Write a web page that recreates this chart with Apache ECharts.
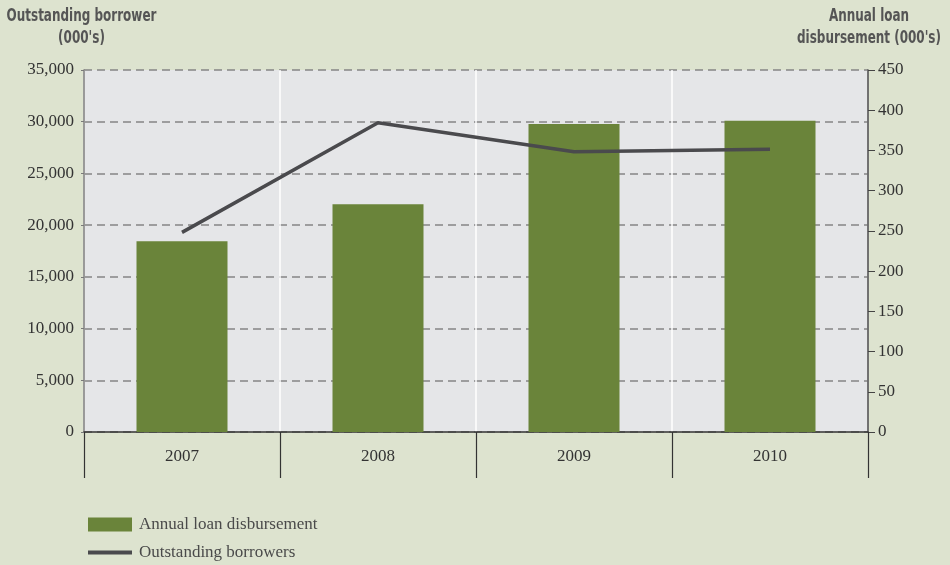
<!DOCTYPE html>
<html>
<head>
<meta charset="utf-8">
<script src="https://cdn.jsdelivr.net/npm/echarts@6/dist/echarts.min.js"></script>
<style>
  html, body { margin: 0; padding: 0; background: #dde3cf; }
  #chart { width: 950px; height: 565px; }
</style>
</head>
<body>
<div id="chart"></div>
<script>
// Years on the category axis
const years = ['2007', '2008', '2009', '2010'];
// Annual loan disbursement, thousands (right axis)
const disbursement = [237, 283, 383, 387];
// Outstanding borrowers, thousands (left axis)
const borrowers = [19300, 29900, 27100, 27330];
// Axis titles, one entry per line
const leftTitle = ['Outstanding borrower', "(000's)"];
const rightTitle = ['Annual loan', "disbursement (000's)"];

const serif = '"Liberation Serif", "DejaVu Serif", serif';
const condensed = '"DejaVu Sans Condensed", "DejaVu Sans", sans-serif';

const chart = echarts.init(document.getElementById('chart'), null, { renderer: 'canvas' });

// Condensed bold heading text, squeezed horizontally to a narrow face
function titleLines(lines, cx) {
  return lines.map((t, i) => ({
    type: 'text',
    x: cx, y: 16 + i * 22,
    scaleX: 0.74,
    style: {
      text: t,
      font: 'bold 18px ' + condensed,
      fill: '#555555',
      align: 'center',
      verticalAlign: 'middle'
    }
  }));
}

chart.setOption({
  backgroundColor: '#dde3cf',
  animation: false,
  grid: {
    left: 84, right: 82, top: 70, bottom: 133,
    containLabel: false,
    outerBoundsMode: 'none',
    show: true, backgroundColor: '#e5e6e8', borderWidth: 0
  },
  graphic: titleLines(leftTitle, 81.5).concat(titleLines(rightTitle, 869)),
  legend: [
    {
      data: ['Annual loan disbursement'],
      left: 83, top: 511,
      itemWidth: 44, itemHeight: 14,
      icon: 'rect',
      textStyle: { fontFamily: serif, fontSize: 17, color: '#4a4a4a', padding: [0, 0, 0, 2] }
    },
    {
      data: ['Outstanding borrowers'],
      left: 83, top: 539,
      itemWidth: 44, itemHeight: 4,
      icon: 'rect',
      textStyle: { fontFamily: serif, fontSize: 17, color: '#4a4a4a', padding: [0, 0, 0, 2] }
    }
  ],
  xAxis: {
    type: 'category',
    data: years,
    boundaryGap: true,
    axisLine: { lineStyle: { color: '#333', width: 1.5 } },
    axisTick: { show: true, interval: 0, length: 46, lineStyle: { color: '#333', width: 1.2 } },
    axisLabel: { margin: 16, fontFamily: serif, fontSize: 17, color: '#333' },
    splitLine: { show: true, interval: 0, lineStyle: { color: '#ffffff', width: 1.5 } }
  },
  yAxis: [
    {
      type: 'value',
      min: 0, max: 35000, interval: 5000,
      position: 'left',
      axisLine: { show: true, lineStyle: { color: '#7a7a7a', width: 1.5 } },
      axisTick: { show: true, length: 3, lineStyle: { color: '#7a7a7a' } },
      axisLabel: {
        margin: 10, fontFamily: serif, fontSize: 17, color: '#333',
        formatter: v => v.toLocaleString('en-US')
      },
      splitLine: { show: true, lineStyle: { color: '#858585', width: 1.5, type: [8, 5] } }
    },
    {
      type: 'value',
      min: 0, max: 450, interval: 50,
      position: 'right',
      axisLine: { show: true, lineStyle: { color: '#444', width: 1.5 } },
      axisTick: { show: true, length: 7, lineStyle: { color: '#444' } },
      axisLabel: { margin: 10, fontFamily: serif, fontSize: 17, color: '#333' },
      splitLine: { show: false }
    }
  ],
  series: [
    {
      name: 'Annual loan disbursement',
      type: 'bar',
      yAxisIndex: 1,
      data: disbursement,
      barWidth: 91,
      itemStyle: { color: '#6a843a' },
      z: 2
    },
    {
      name: 'Outstanding borrowers',
      type: 'line',
      yAxisIndex: 0,
      data: borrowers,
      symbol: 'none',
      lineStyle: { color: '#4a4a4d', width: 3.5 },
      itemStyle: { color: '#4a4a4d' },
      z: 3
    }
  ]
});
</script>
</body>
</html>
